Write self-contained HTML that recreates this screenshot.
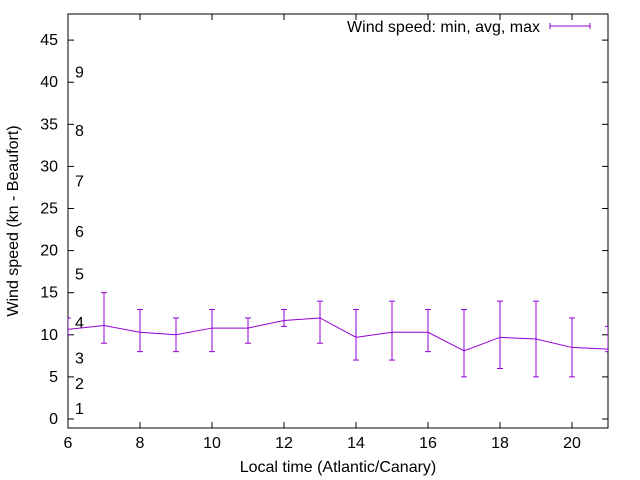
<!DOCTYPE html>
<html><head><meta charset="utf-8"><style>
body{margin:0;background:#fff;}
svg{display:block;font-family:"Liberation Sans",sans-serif;}
</style></head><body>
<svg id="c" width="640" height="480" xmlns="http://www.w3.org/2000/svg"></svg>
<script>
const hours=[6,7,8,9,10,11,12,13,14,15,16,17,18,19,20,21];
const avgSpeed=[10.65,11.1,10.3,10.0,10.8,10.8,11.7,12.0,9.7,10.3,10.3,8.1,9.7,9.5,8.5,8.3];
const minSpeed=[10,9,8,8,8,9,11,9,7,7,8,5,6,5,5,8];
const maxSpeed=[12,15,13,12,13,12,13,14,13,14,13,13,14,14,12,11];
const yTicks=[0,5,10,15,20,25,30,35,40,45];
const xTicks=[6,8,10,12,14,16,18,20];
const beaufortLabels=["1","2","3","4","5","6","7","8","9"];
const beaufortPos=[1.3,4.3,7.3,11.5,17.3,22.3,28.3,34.3,41.3];

const svg=document.getElementById('c');
const NS='http://www.w3.org/2000/svg';
const L=68,R=608,T=14,B=428;
const X=v=>L+(v-6)*(R-L)/15;
const Y=v=>419-v*8.42;
function el(tag,attrs,parent){const e=document.createElementNS(NS,tag);for(const k in attrs)e.setAttribute(k,attrs[k]);(parent||svg).appendChild(e);return e;}

yTicks.forEach(v=>{
  const g=el('g',{});
  
  
  el('line',{x1:L,x2:L+6,y1:Y(v),y2:Y(v),stroke:'#000'},g);
  el('line',{x1:R,x2:R-6,y1:Y(v),y2:Y(v),stroke:'#000'},g);
  const t=el('text',{x:L-10,y:Y(v)+5,'text-anchor':'end','font-size':'16',fill:'#000'},g);t.textContent=v;
});
xTicks.forEach(v=>{
  const g=el('g',{});
  
  
  el('line',{x1:X(v),x2:X(v),y1:B,y2:B-6,stroke:'#000'},g);
  el('line',{x1:X(v),x2:X(v),y1:T,y2:T+6,stroke:'#000'},g);
  const t=el('text',{x:X(v),y:B+20,'text-anchor':'middle','font-size':'16',fill:'#000'},g);t.textContent=v;
});
beaufortLabels.forEach((s,i)=>{
  const t=el('text',{x:75,y:Y(beaufortPos[i])+6,'font-size':'16',fill:'#000'});
  
  
  t.textContent=s;
});
const frame=el('rect',{x:L,y:T,width:R-L,height:B-T,fill:'none',stroke:'#000'});



const clip=el('clipPath',{id:'cp'});el('rect',{x:L,y:T,width:R-L,height:B-T},clip);
const series=el('g',{'clip-path':'url(#cp)',stroke:'#9400d3',fill:'none','stroke-width':'1'});


hours.forEach((h,i)=>{
  const x=X(h);
  const g=el('g',{},series);
  
  
  el('line',{x1:x,x2:x,y1:Y(minSpeed[i]),y2:Y(maxSpeed[i])},g);
  el('line',{x1:x-3,x2:x+3,y1:Y(minSpeed[i]),y2:Y(minSpeed[i])},g);
  el('line',{x1:x-3,x2:x+3,y1:Y(maxSpeed[i]),y2:Y(maxSpeed[i])},g);
});
const line=el('polyline',{points:hours.map((h,i)=>X(h)+','+Y(avgSpeed[i])).join(' ')},series);



const lg=el('g',{});


const lt=el('text',{x:540,y:32,'text-anchor':'end','font-size':'16',fill:'#000'},lg);lt.textContent='Wind speed: min, avg, max';
el('line',{x1:550,x2:590,y1:26,y2:26,stroke:'#9400d3'},lg);
el('line',{x1:550,x2:550,y1:23,y2:29,stroke:'#9400d3'},lg);
el('line',{x1:590,x2:590,y1:23,y2:29,stroke:'#9400d3'},lg);

const xt=el('text',{x:338,y:472,'text-anchor':'middle','font-size':'16',fill:'#000'});


xt.textContent='Local time (Atlantic/Canary)';
const yt=el('text',{x:0,y:0,'text-anchor':'middle','font-size':'16',fill:'#000',transform:'translate(18,221) rotate(-90)'});


yt.textContent='Wind speed (kn - Beaufort)';
</script>
</body></html>
